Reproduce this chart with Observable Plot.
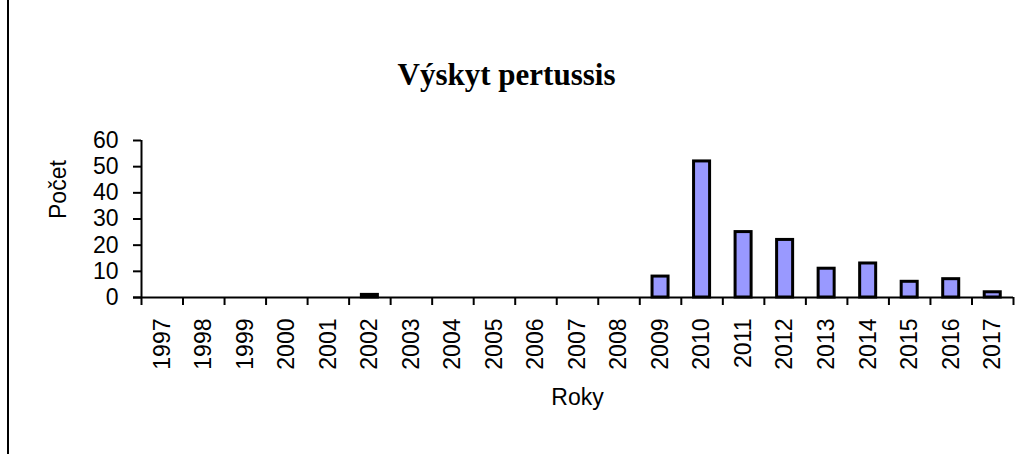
<!DOCTYPE html>
<html>
<head>
<meta charset="utf-8">
<script src="https://cdn.jsdelivr.net/npm/d3@7"></script>
<script src="https://cdn.jsdelivr.net/npm/@observablehq/plot@0.6"></script>
<style>
  html, body { margin: 0; padding: 0; background: white; }
  #wrap { position: relative; width: 1029px; height: 454px; overflow: hidden; }
  #edge { position: absolute; left: 7px; top: 0; width: 2px; height: 454px; background: black; }
</style>
</head>
<body>
<div id="wrap"><div id="edge"></div></div>
<script>
const title = "Výskyt pertussis";
const xLabel = "Roky";
const yLabel = "Počet";
const years = [1997, 1998, 1999, 2000, 2001, 2002, 2003, 2004, 2005, 2006, 2007,
               2008, 2009, 2010, 2011, 2012, 2013, 2014, 2015, 2016, 2017];
const counts = [0, 0, 0, 0, 0, 1, 0, 0, 0, 0, 0,
                0, 8, 52, 25, 22, 11, 13, 6, 7, 2];
const yTicks = [0, 10, 20, 30, 40, 50, 60];

const data = years.map((year, i) => ({year, value: counts[i]}));
const boundaries = [years[0] - 0.5, ...years.map(y => y + 0.5)];

const chart = Plot.plot({
  width: 1029,
  height: 454,
  marginLeft: 141,
  marginRight: 16,
  marginTop: 140,
  marginBottom: 157,
  style: {fontFamily: "'Liberation Sans', Arial, sans-serif", fontSize: "23px", color: "black", background: "transparent"},
  x: {type: "linear", domain: [years[0] - 0.5, years[years.length - 1] + 0.5]},
  y: {domain: [0, 60]},
  marks: [
    Plot.rectY(data.filter(d => d.value > 0), {
      x1: d => d.year - 0.5, x2: d => d.year + 0.5, y: "value",
      insetLeft: 12.75, insetRight: 12.75,
      fill: "#9999ff", stroke: "black", strokeWidth: 3
    }),
    Plot.axisY({ticks: yTicks, tickSize: 8, tickPadding: 15, label: null, strokeWidth: 2, fontSize: 23}),
    Plot.axisX({ticks: boundaries, tickSize: 8, tickFormat: () => "", label: null, strokeWidth: 2}),
    Plot.axisX({ticks: years, tickSize: 0, tickPadding: 21, tickRotate: -90, tickFormat: d => String(d), label: null, fontSize: 23}),
    Plot.ruleY([0], {strokeWidth: 2, insetLeft: -8}),
    Plot.ruleX([years[0] - 0.5], {strokeWidth: 2}),
    Plot.text([title], {frameAnchor: "top", dx: -71, dy: -65, lineAnchor: "middle",
      fontFamily: "'Liberation Serif', 'Times New Roman', serif", fontWeight: "bold", fontSize: 31}),
    Plot.text([xLabel], {frameAnchor: "bottom", dy: 100, lineAnchor: "middle", fontSize: 23}),
    Plot.text([yLabel], {frameAnchor: "left", dx: -83, rotate: -90, lineAnchor: "middle", fontSize: 23})
  ]
});
document.getElementById("wrap").appendChild(chart);
chart.style.position = "absolute";
chart.style.left = "0";
chart.style.top = "0";
</script>
</body>
</html>
